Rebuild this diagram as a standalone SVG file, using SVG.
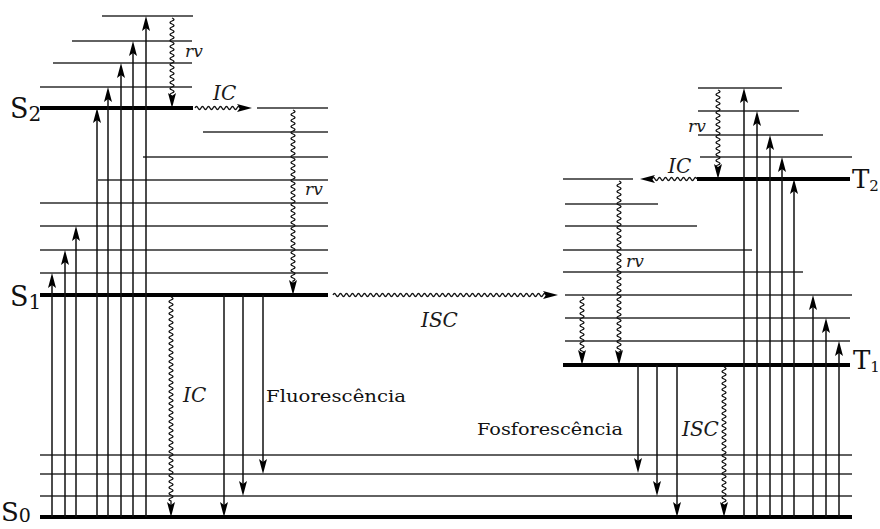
<svg xmlns="http://www.w3.org/2000/svg" width="880" height="529" viewBox="0 0 880 529">
<style>
.lv{stroke:#2e2e2e;stroke-width:1.5;fill:none}
.th{stroke:#000;stroke-width:4;fill:none}
.ar{stroke:#111;stroke-width:1.5;fill:none;marker-end:url(#ah)}
.wv{stroke:#111;stroke-width:1.3;fill:none;marker-end:url(#ah)}
.lbl{font-family:"DejaVu Serif","Liberation Serif",serif;fill:#111}
.it{font-family:"DejaVu Serif","Liberation Serif",serif;font-style:italic;fill:#1a1a1a}
</style>
<defs>
<marker id="ah" markerUnits="userSpaceOnUse" markerWidth="16" markerHeight="9" viewBox="0 0 16 9" refX="11" refY="4.5" orient="auto">
<path d="M0,0.5 L15,4.5 L0,8.5 L3,4.5 z" fill="#000"/>
</marker>
</defs>
<rect width="880" height="529" fill="#fff"/>

<g id="S2">
<line class="lv" x1="102" y1="16" x2="193" y2="16"/>
<line class="lv" x1="72" y1="41" x2="192" y2="41"/>
<line class="lv" x1="53" y1="63" x2="192" y2="63"/>
<line class="lv" x1="40" y1="87" x2="192" y2="87"/>
<line class="th" x1="40" y1="108" x2="193" y2="108"/>
<text class="lbl" x="10" y="118" font-size="27">S<tspan font-size="20" dy="3">2</tspan></text>
</g>

<g id="S1">
<line class="lv" x1="257" y1="108" x2="328" y2="108"/>
<line class="lv" x1="203" y1="132" x2="328" y2="132"/>
<line class="lv" x1="143" y1="157" x2="328" y2="157"/>
<line class="lv" x1="98" y1="180" x2="328" y2="180"/>
<line class="lv" x1="40" y1="203" x2="328" y2="203"/>
<line class="lv" x1="40" y1="226" x2="328" y2="226"/>
<line class="lv" x1="40" y1="250" x2="328" y2="250"/>
<line class="lv" x1="40" y1="273" x2="328" y2="273"/>
<line class="th" x1="40" y1="295" x2="328" y2="295"/>
<text class="lbl" x="10" y="306" font-size="27">S<tspan font-size="20" dy="3">1</tspan></text>
</g>

<g id="S0">
<line class="lv" x1="40" y1="455" x2="852" y2="455"/>
<line class="lv" x1="40" y1="474" x2="852" y2="474"/>
<line class="lv" x1="40" y1="496" x2="852" y2="496"/>
<line class="th" x1="40" y1="517" x2="852" y2="517"/>
<text class="lbl" x="1" y="521" font-size="26">S<tspan font-size="19" dy="1">0</tspan></text>
</g>

<g id="T2">
<line class="lv" x1="698" y1="88" x2="782" y2="88"/>
<line class="lv" x1="698" y1="111" x2="799" y2="111"/>
<line class="lv" x1="698" y1="135" x2="823" y2="135"/>
<line class="lv" x1="700" y1="157" x2="852" y2="157"/>
<line class="th" x1="697" y1="179" x2="850" y2="179"/>
<text class="lbl" x="852" y="188" font-size="26">T<tspan font-size="15" dy="3">2</tspan></text>
</g>

<g id="T1">
<line class="lv" x1="563" y1="179" x2="633" y2="179"/>
<line class="lv" x1="565" y1="204" x2="658" y2="204"/>
<line class="lv" x1="565" y1="226" x2="697" y2="226"/>
<line class="lv" x1="563" y1="250" x2="752" y2="250"/>
<line class="lv" x1="563" y1="272" x2="803" y2="272"/>
<line class="lv" x1="565" y1="295" x2="852" y2="295"/>
<line class="lv" x1="565" y1="318" x2="850" y2="318"/>
<line class="lv" x1="565" y1="341" x2="850" y2="341"/>
<line class="th" x1="563" y1="365" x2="850" y2="365"/>
<text class="lbl" x="853" y="369" font-size="26">T<tspan font-size="15" dy="3">1</tspan></text>
</g>

<g id="connectors">
<line class="ar" x1="52" y1="517" x2="52" y2="277"/>
<line class="ar" x1="65" y1="517" x2="65" y2="254"/>
<line class="ar" x1="76" y1="517" x2="76" y2="230"/>
<line class="ar" x1="97" y1="517" x2="97" y2="112"/>
<line class="ar" x1="108" y1="517" x2="108" y2="91"/>
<line class="ar" x1="121" y1="517" x2="121" y2="67"/>
<line class="ar" x1="133" y1="517" x2="133" y2="45"/>
<line class="ar" x1="146" y1="517" x2="146" y2="20"/>
<line class="ar" x1="744" y1="517" x2="744" y2="92"/>
<line class="ar" x1="757" y1="517" x2="757" y2="115"/>
<line class="ar" x1="770" y1="517" x2="770" y2="139"/>
<line class="ar" x1="782" y1="517" x2="782" y2="161"/>
<line class="ar" x1="794" y1="517" x2="794" y2="183"/>
<line class="ar" x1="813" y1="517" x2="813" y2="299"/>
<line class="ar" x1="826" y1="517" x2="826" y2="322"/>
<line class="ar" x1="839" y1="517" x2="839" y2="345"/>
<line class="ar" x1="224" y1="295" x2="224" y2="513"/>
<line class="ar" x1="243" y1="295" x2="243" y2="492"/>
<line class="ar" x1="263" y1="295" x2="263" y2="470"/>
<line class="ar" x1="638" y1="365" x2="638" y2="469"/>
<line class="ar" x1="657" y1="365" x2="657" y2="492"/>
<line class="ar" x1="677" y1="365" x2="677" y2="513"/>
<path class="wv" d="M172 18 q4 1.5 0 3 t0 3 t0 3 t0 3 t0 3 t0 3 t0 3 t0 3 t0 3 t0 3 t0 3 t0 3 t0 3 t0 3 t0 3 t0 3 t0 3 t0 3 t0 3 t0 3 t0 3 t0 3 t0 3 t0 3 t0 3 t0 3 V104"/>
<path class="wv" d="M195 108 q1.5 -3 3 0 t3 0 t3 0 t3 0 t3 0 t3 0 t3 0 t3 0 t3 0 t3 0 t3 0 t3 0 t3 0 t3 0 t3 0 H248"/>
<path class="wv" d="M293 110 q4 1.5 0 3 t0 3 t0 3 t0 3 t0 3 t0 3 t0 3 t0 3 t0 3 t0 3 t0 3 t0 3 t0 3 t0 3 t0 3 t0 3 t0 3 t0 3 t0 3 t0 3 t0 3 t0 3 t0 3 t0 3 t0 3 t0 3 t0 3 t0 3 t0 3 t0 3 t0 3 t0 3 t0 3 t0 3 t0 3 t0 3 t0 3 t0 3 t0 3 t0 3 t0 3 t0 3 t0 3 t0 3 t0 3 t0 3 t0 3 t0 3 t0 3 t0 3 t0 3 t0 3 t0 3 t0 3 t0 3 t0 3 t0 3 V291"/>
<path class="wv" d="M171 297 q4 1.5 0 3 t0 3 t0 3 t0 3 t0 3 t0 3 t0 3 t0 3 t0 3 t0 3 t0 3 t0 3 t0 3 t0 3 t0 3 t0 3 t0 3 t0 3 t0 3 t0 3 t0 3 t0 3 t0 3 t0 3 t0 3 t0 3 t0 3 t0 3 t0 3 t0 3 t0 3 t0 3 t0 3 t0 3 t0 3 t0 3 t0 3 t0 3 t0 3 t0 3 t0 3 t0 3 t0 3 t0 3 t0 3 t0 3 t0 3 t0 3 t0 3 t0 3 t0 3 t0 3 t0 3 t0 3 t0 3 t0 3 t0 3 t0 3 t0 3 t0 3 t0 3 t0 3 t0 3 t0 3 t0 3 t0 3 t0 3 t0 3 V513"/>
<path class="wv" d="M333 295 q1.5 -3 3 0 t3 0 t3 0 t3 0 t3 0 t3 0 t3 0 t3 0 t3 0 t3 0 t3 0 t3 0 t3 0 t3 0 t3 0 t3 0 t3 0 t3 0 t3 0 t3 0 t3 0 t3 0 t3 0 t3 0 t3 0 t3 0 t3 0 t3 0 t3 0 t3 0 t3 0 t3 0 t3 0 t3 0 t3 0 t3 0 t3 0 t3 0 t3 0 t3 0 t3 0 t3 0 t3 0 t3 0 t3 0 t3 0 t3 0 t3 0 t3 0 t3 0 t3 0 t3 0 t3 0 t3 0 t3 0 t3 0 t3 0 t3 0 t3 0 t3 0 t3 0 t3 0 t3 0 t3 0 t3 0 t3 0 t3 0 t3 0 t3 0 t3 0 t3 0 H554"/>
<path class="wv" d="M718 90 q4 1.5 0 3 t0 3 t0 3 t0 3 t0 3 t0 3 t0 3 t0 3 t0 3 t0 3 t0 3 t0 3 t0 3 t0 3 t0 3 t0 3 t0 3 t0 3 t0 3 t0 3 t0 3 t0 3 t0 3 t0 3 t0 3 t0 3 V175"/>
<path class="wv" d="M697 179 q-1.5 -3 -3 0 t-3 0 t-3 0 t-3 0 t-3 0 t-3 0 t-3 0 t-3 0 t-3 0 t-3 0 t-3 0 t-3 0 t-3 0 t-3 0 t-3 0 H644"/>
<path class="wv" d="M619 181 q4 1.5 0 3 t0 3 t0 3 t0 3 t0 3 t0 3 t0 3 t0 3 t0 3 t0 3 t0 3 t0 3 t0 3 t0 3 t0 3 t0 3 t0 3 t0 3 t0 3 t0 3 t0 3 t0 3 t0 3 t0 3 t0 3 t0 3 t0 3 t0 3 t0 3 t0 3 t0 3 t0 3 t0 3 t0 3 t0 3 t0 3 t0 3 t0 3 t0 3 t0 3 t0 3 t0 3 t0 3 t0 3 t0 3 t0 3 t0 3 t0 3 t0 3 t0 3 t0 3 t0 3 t0 3 t0 3 t0 3 t0 3 t0 3 V361"/>
<path class="wv" d="M582 297 q4 1.5 0 3 t0 3 t0 3 t0 3 t0 3 t0 3 t0 3 t0 3 t0 3 t0 3 t0 3 t0 3 t0 3 t0 3 t0 3 t0 3 t0 3 t0 3 t0 3 V361"/>
<path class="wv" d="M724 367 q4 1.5 0 3 t0 3 t0 3 t0 3 t0 3 t0 3 t0 3 t0 3 t0 3 t0 3 t0 3 t0 3 t0 3 t0 3 t0 3 t0 3 t0 3 t0 3 t0 3 t0 3 t0 3 t0 3 t0 3 t0 3 t0 3 t0 3 t0 3 t0 3 t0 3 t0 3 t0 3 t0 3 t0 3 t0 3 t0 3 t0 3 t0 3 t0 3 t0 3 t0 3 t0 3 t0 3 t0 3 t0 3 t0 3 t0 3 V513"/>
</g>

<g id="labels">
<text class="it" x="185" y="57" font-size="17">rv</text>
<text class="it" x="213" y="100" font-size="20">IC</text>
<text class="it" x="305" y="195" font-size="17">rv</text>
<text class="it" x="183" y="402" font-size="20">IC</text>
<text class="it" x="421" y="327" font-size="20">ISC</text>
<text class="it" x="688" y="132" font-size="17">rv</text>
<text class="it" x="668" y="173" font-size="20">IC</text>
<text class="it" x="626" y="267" font-size="17">rv</text>
<text class="it" x="682" y="436" font-size="20">ISC</text>
<text class="lbl" x="266" y="402" font-size="17" textLength="140" lengthAdjust="spacingAndGlyphs">Fluorescência</text>
<text class="lbl" x="477" y="435" font-size="17" textLength="146" lengthAdjust="spacingAndGlyphs">Fosforescência</text>
</g>
</svg>
